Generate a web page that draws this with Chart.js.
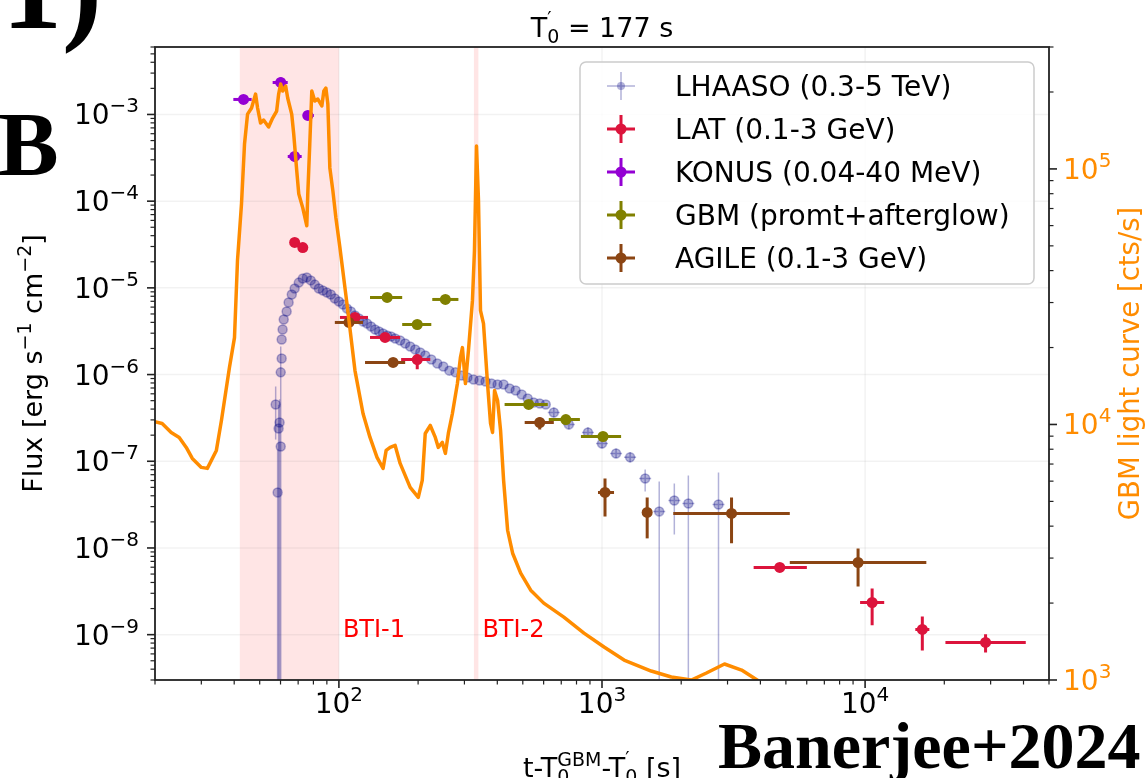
<!DOCTYPE html>
<html>
<head>
<meta charset="utf-8">
<script src="https://cdn.jsdelivr.net/npm/chart.js@4.4.1/dist/chart.umd.min.js"></script>
<style>
  html, body { margin: 0; padding: 0; background: #fff; }
  #wrap { position: relative; width: 1148px; height: 778px; }
</style>
</head>
<body>
<div id="wrap"><canvas id="lcChart" width="1148" height="778"></canvas></div>
<script>
const FONT = '"DejaVu Sans", sans-serif';
const SERIF = '"Liberation Serif", "DejaVu Serif", serif';

function gap(n) { return new Array(n).fill(null); }

// GBM light curve, counts/s (right axis)
const gbmLcTime = [19.86, 21.29, 23.05, 24.72, 26.29, 27.72, 30.0, 31.62, 34.22, 35.77,
  38.37, 40.10, 41.17, 42.64, 43.78, 44.96, 46.56, 48.23, 49.08, 50.39,
  51.73, 54.06, 55.99, 58.0, 59.02, 60.06, 61.13, 62.76, 63.88, 66.17,
  67.34, 69.15, 70.38, 72.89, 75.5, 76.16, 77.5, 78.88, 80.98, 83.15,
  86.12, 87.65, 89.23, 90.78, 92.39, 94.87, 97.39, 100.9, 107.3, 115.1,
  123.5, 131.3, 139.6, 147.2, 151.2, 156.6, 163.6, 170.9, 186.6, 200.3,
  207.4, 212.9, 222.5, 232.5, 238.7, 247.3, 253.9, 260.6, 270.0, 282.1,
  289.6, 294.8, 302.6, 310.7, 321.8, 327.5, 333.4, 339.3, 345.3, 354.5,
  367.2, 377.0, 383.7, 390.5, 401.0, 411.6, 422.7, 437.8, 457.4, 490.8,
  535.8, 600.6, 716.1, 853.8, 1018, 1213, 1538, 1834, 2186, 2494,
  2921, 3393, 3939];
const gbmLcRate = [10270, 10090, 9307, 8897, 8133, 7366, 6792, 6731, 7915, 10366,
  16700, 21870, 43720, 73000, 125200, 163900, 173100, 196300, 173100, 151200,
  155400, 145900, 158200, 168500, 196300, 214800, 201700, 211000, 189400, 163900,
  137000, 98200, 79870, 70410, 59900, 79870, 125200, 201700, 184300, 187700,
  176300, 201700, 207200, 179400, 100900, 82050, 64380, 49130, 29700, 16250,
  11040, 8897, 7432, 6731, 7915, 8133, 8280, 7040, 5675, 5186,
  6043, 9222, 9911, 8897, 8133, 8505, 7704, 9222, 11040, 14460,
  18270, 19990, 14460, 19460, 30510, 47820, 123000, 74990, 27880, 24800,
  14460, 10090, 9307, 13580, 12410, 9475, 6043, 3855, 3134, 2618,
  2247, 1999, 1762, 1526, 1346, 1197, 1084, 1027, 1000, 1065,
  1155, 1094, 991];

// LHAASO 0.3-5 TeV
const lhaasoTime = [58.5, 60.1, 59.0, 59.5, 57.5, 60.1, 60.6, 60.6, 61.1, 61.7,
  63.3, 64.4, 66.2, 67.9, 70.4, 72.9, 75.5, 78.2, 81.0, 83.9,
  86.9, 90.0, 93.2, 96.5, 100, 103.6, 107.3, 111.1, 115.1, 119.2,
  123.5, 127.9, 132.5, 137.2, 142.1, 147.2, 152.5, 157.9, 163.6, 170.9,
  178.6, 186.6, 195.0, 203.8, 212.9, 224.5, 236.6, 249.4, 262.9, 277.2,
  292.2, 308.0, 324.7, 342.3, 360.8, 380.3, 400.9, 422.6, 445.5, 469.6,
  495.1, 521.9, 550.1, 579.9, 611.3, 655.9, 748.3, 884.3, 1000, 1131,
  1279, 1459, 1650, 1883, 2129, 2772];
const lhaasoFlux = [4.37e-8, 1.48e-7, 2.39e-7, 2.80e-7, 4.52e-7, 1.06e-6, 1.53e-6, 2.54e-6, 3.31e-6, 4.32e-6,
  5.34e-6, 6.79e-6, 8.39e-6, 9.84e-6, 1.15e-5, 1.28e-5, 1.32e-5, 1.22e-5, 1.09e-5, 9.84e-6,
  9.33e-6, 8.85e-6, 8.39e-6, 7.54e-6, 6.96e-6, 6.43e-6, 5.79e-6, 5.34e-6, 4.80e-6, 4.44e-6,
  4.10e-6, 3.89e-6, 3.59e-6, 3.31e-6, 3.14e-6, 2.98e-6, 2.82e-6, 2.75e-6, 2.61e-6, 2.47e-6,
  2.28e-6, 2.11e-6, 1.95e-6, 1.80e-6, 1.66e-6, 1.49e-6, 1.34e-6, 1.24e-6, 1.11e-6, 1.06e-6,
  9.76e-7, 9.26e-7, 8.78e-7, 8.55e-7, 8.32e-7, 7.89e-7, 7.69e-7, 7.69e-7, 6.91e-7, 6.55e-7,
  5.90e-7, 5.30e-7, 4.77e-7, 4.64e-7, 4.52e-7, 3.65e-7, 2.66e-7, 2.15e-7, 1.60e-7, 1.23e-7,
  1.11e-7, 6.33e-8, 2.64e-8, 3.53e-8, 3.26e-8, 3.17e-8];
const lhaasoTimeLo = [...gap(65), 622, 710, 839, 949, 1073, 1213, 1384, 1566, 1787, 2020, 2630];
const lhaasoTimeHi = [...gap(65), 691, 789, 932, 1054, 1192, 1348, 1538, 1739, 1985, 2244, 2922];
const lhaasoFluxLo = [1e-10, 1e-10, 1e-10, 1e-10, 1.78e-7, ...gap(60),
  3.20e-7, 2.33e-7, 1.88e-7, 1.40e-7, 1.08e-7, 9.7e-8, 4.48e-8, 1e-10, 1.43e-8, 1e-10, 1e-10];
const lhaasoFluxHi = [1.37e-7, 2.11e-6, 4.5e-7, 5.2e-7, 7.29e-7, ...gap(60),
  4.17e-7, 3.04e-7, 2.46e-7, 1.83e-7, 1.40e-7, 1.27e-7, 8.04e-8, 5.85e-8, 5.54e-8, 6.86e-8, 7.43e-8];

// Fermi-LAT 0.1-3 GeV
const latTime = [67.9, 72.9, 115.1, 149.8, 198.5, 4738, 10635, 16500, 28700];
const latFlux = [3.34e-5, 2.92e-5, 4.56e-6, 2.68e-6, 1.49e-6, 5.96e-9, 2.35e-9, 1.15e-9, 8.13e-10];
const latTimeLo = [null, null, 100.9, 131.3, 172.4, 3770, 9571, 15520, 20200];
const latTimeHi = [null, null, 129.0, 170.9, 222.5, 6007, 11820, 17550, 40800];
const latFluxLo = [null, null, null, null, 1.15e-6, null, 1.28e-9, 6.57e-10, 6.23e-10];
const latFluxHi = [null, null, null, null, 1.70e-6, null, 3.41e-9, 1.62e-9, 1.01e-9];

// Konus-Wind 0.04-40 MeV
const konusTime = [43.4, 60.1, 67.9, 76.2];
const konusFlux = [1.49e-3, 2.34e-3, 3.28e-4, 9.74e-4];
const konusTimeLo = [39.7, 56.0, 63.9, 72.9];
const konusTimeHi = [46.6, 63.9, 72.2, 80.3];
const konusFluxLo = [null, 2.05e-3, 2.87e-4, null];
const konusFluxHi = [null, 2.67e-3, 3.64e-4, null];

// GBM prompt + afterglow
const gbmTime = [152.5, 198.5, 253.9, 526.5, 728.8, 1008.8];
const gbmFlux = [7.75e-6, 3.78e-6, 7.35e-6, 4.52e-7, 3.03e-7, 1.93e-7];
const gbmTimeLo = [131.3, 174.0, 226.4, 426.4, 627.6, 831.5];
const gbmTimeHi = [174.0, 224.5, 284.6, 622.1, 824.2, 1181.9];

// AGILE 0.1-3 GeV
const agileTime = [109.2, 160.7, 579.9, 1026.7, 1485, 3107, 9403];
const agileFlux = [3.99e-6, 1.38e-6, 2.80e-7, 4.37e-8, 2.57e-8, 2.50e-8, 6.80e-9];
const agileTimeLo = [96.5, 125.7, 508.3, 965.5, null, 1866, 5173];
const agileTimeHi = [123.5, 178.6, 655.9, 1111, null, 5173, 17090];
const agileFluxLo = [null, null, 2.33e-7, 2.31e-8, 1.29e-8, 1.13e-8, 3.60e-9];
const agileFluxHi = [null, null, 3.20e-7, 6.33e-8, 3.82e-8, 3.82e-8, 9.87e-9];

// axis limits and shaded bad-time intervals
const timeRange = [20, 5e4];
const fluxRange = [3e-10, 6e-3];
const rateRange = [1e3, 3e5];
const btiWindows = [[42, 100], [326, 339]];
const btiNames = ['BTI-1', 'BTI-2'];

const legendLabels = ['LHAASO (0.3-5 TeV)', 'LAT (0.1-3 GeV)', 'KONUS (0.04-40 MeV)',
  'GBM (promt+afterglow)', 'AGILE (0.1-3 GeV)'];

const ORANGE = '#ff8c00';
const NAVY_A = 'rgba(0,0,128,0.3)';
const CRIMSON = '#dc143c';
const VIOLET = '#9400d3';
const OLIVE = '#808000';
const BROWN = '#8b4513';

function points(xs, ys) { return xs.map((x, i) => ({ x: x, y: ys[i] })); }

function scatterSet(label, color, xs, ys, err, radius, edge) {
  return {
    type: 'scatter', label: label, data: points(xs, ys), yAxisID: 'y',
    pointRadius: radius, pointHoverRadius: radius,
    pointBackgroundColor: color, pointBorderColor: color, pointBorderWidth: edge || 0,
    errorBars: err
  };
}

// text with super/subscripts: parts = [{t, s, dy, stack}]
function rich(ctx, parts, x, y, align) {
  let cx = 0, hold = 0;
  const items = parts.map(p => {
    ctx.font = p.s + 'px ' + FONT;
    const w = ctx.measureText(p.t).width;
    const it = { p: p, x: cx };
    if (p.stack) hold = Math.max(hold, w);
    else { cx += Math.max(hold, w); hold = 0; }
    return it;
  });
  const off = align === 'center' ? -cx / 2 : align === 'right' ? -cx : 0;
  ctx.textAlign = 'left';
  ctx.textBaseline = 'alphabetic';
  items.forEach(it => {
    ctx.font = it.p.s + 'px ' + FONT;
    ctx.fillText(it.p.t, x + off + it.x, y + (it.p.dy || 0));
  });
}

function powLabel(e) {
  return [{ t: '10', s: 28 }, { t: (e < 0 ? '\u2212' : '') + Math.abs(e), s: 20, dy: -12 }];
}

function logTicks(min, max) {
  const out = [];
  for (let e = Math.floor(Math.log10(min)); e <= Math.ceil(Math.log10(max)); e++) {
    for (let m = 1; m <= 9; m++) {
      const v = m * Math.pow(10, e);
      if (v >= min * 0.9999 && v <= max * 1.0001) out.push({ v: v, major: m === 1, e: e });
    }
  }
  return out;
}

function crossMarker(ctx, x, y, color, lw, r, arm) {
  ctx.strokeStyle = color;
  ctx.fillStyle = color;
  ctx.lineWidth = lw;
  ctx.beginPath();
  ctx.moveTo(x - arm, y); ctx.lineTo(x + arm, y);
  ctx.moveTo(x, y - arm); ctx.lineTo(x, y + arm);
  ctx.stroke();
  ctx.beginPath();
  ctx.arc(x, y, r, 0, Math.PI * 2);
  ctx.fill();
}

const decor = {
  id: 'decor',
  beforeDatasetsDraw(chart) {
    const { ctx, chartArea: a, scales } = chart;
    ctx.save();
    // shaded intervals
    ctx.fillStyle = 'rgba(255,0,0,0.1)';
    btiWindows.forEach(w => {
      const x0 = scales.x.getPixelForValue(w[0]), x1 = scales.x.getPixelForValue(w[1]);
      ctx.fillRect(x0, a.top, x1 - x0, a.bottom - a.top);
    });
    // faint grid at decades
    ctx.strokeStyle = 'rgba(0,0,0,0.05)';
    ctx.lineWidth = 1.5;
    logTicks(timeRange[0], timeRange[1]).filter(t => t.major).forEach(t => {
      const px = scales.x.getPixelForValue(t.v);
      ctx.beginPath(); ctx.moveTo(px, a.top); ctx.lineTo(px, a.bottom); ctx.stroke();
    });
    logTicks(fluxRange[0], fluxRange[1]).filter(t => t.major).forEach(t => {
      const py = scales.y.getPixelForValue(t.v);
      ctx.beginPath(); ctx.moveTo(a.left, py); ctx.lineTo(a.right, py); ctx.stroke();
    });
    ctx.restore();
  },
  beforeDatasetDraw(chart, args) {
    const ds = chart.data.datasets[args.index];
    const eb = ds.errorBars;
    if (!eb) return;
    const { ctx, chartArea: a, scales } = chart;
    const xs = scales.x, ys = scales.y;
    ctx.save();
    ctx.beginPath();
    ctx.rect(a.left, a.top, a.right - a.left, a.bottom - a.top);
    ctx.clip();
    ctx.strokeStyle = eb.color;
    ctx.lineWidth = eb.width;
    ds.data.forEach((p, i) => {
      const px = xs.getPixelForValue(p.x), py = ys.getPixelForValue(p.y);
      ctx.beginPath();
      if (eb.xLo && eb.xLo[i] != null) {
        ctx.moveTo(xs.getPixelForValue(eb.xLo[i]), py);
        ctx.lineTo(xs.getPixelForValue(eb.xHi[i]), py);
      }
      if (eb.yLo && eb.yLo[i] != null) {
        ctx.moveTo(px, ys.getPixelForValue(eb.yLo[i]));
        ctx.lineTo(px, ys.getPixelForValue(eb.yHi[i]));
      }
      ctx.stroke();
    });
    ctx.restore();
  },
  afterDraw(chart) {
    const { ctx, chartArea: a, scales } = chart;
    ctx.save();

    // frame
    ctx.strokeStyle = '#222';
    ctx.lineWidth = 1.8;
    ctx.strokeRect(a.left, a.top, a.right - a.left, a.bottom - a.top);

    // tick marks + labels
    ctx.fillStyle = '#000';
    logTicks(timeRange[0], timeRange[1]).forEach(t => {
      const px = scales.x.getPixelForValue(t.v);
      ctx.lineWidth = t.major ? 1.6 : 1.2;
      ctx.beginPath(); ctx.moveTo(px, a.bottom); ctx.lineTo(px, a.bottom + (t.major ? 8 : 4.5)); ctx.stroke();
      if (t.major) rich(ctx, powLabel(t.e), px, 713, 'center');
    });
    logTicks(fluxRange[0], fluxRange[1]).forEach(t => {
      const py = scales.y.getPixelForValue(t.v);
      ctx.lineWidth = t.major ? 1.6 : 1.2;
      ctx.beginPath(); ctx.moveTo(a.left, py); ctx.lineTo(a.left - (t.major ? 8 : 4.5), py); ctx.stroke();
      if (t.major) rich(ctx, powLabel(t.e), 139, py + 10, 'right');
    });
    logTicks(rateRange[0], rateRange[1]).forEach(t => {
      const py = scales.yR.getPixelForValue(t.v);
      ctx.lineWidth = t.major ? 1.6 : 1.2;
      ctx.beginPath(); ctx.moveTo(a.right, py); ctx.lineTo(a.right + (t.major ? 8 : 4.5), py); ctx.stroke();
      if (t.major) {
        ctx.fillStyle = ORANGE;
        rich(ctx, powLabel(t.e), a.right + 14, py + 10, 'left');
        ctx.fillStyle = '#000';
      }
    });

    // title
    rich(ctx, [{ t: 'T', s: 27 }, { t: '\u2032', s: 19, dy: -12, stack: true }, { t: '0', s: 19, dy: 6 },
      { t: ' = 177 s', s: 27 }], (a.left + a.right) / 2, 37, 'center');

    // x axis title
    rich(ctx, [{ t: 't-T', s: 27 }, { t: 'GBM', s: 19, dy: -11, stack: true }, { t: '0', s: 19, dy: 6 },
      { t: '-T', s: 27 }, { t: '\u2032', s: 19, dy: -12, stack: true }, { t: '0', s: 19, dy: 6 },
      { t: ' [s]', s: 27 }], (a.left + a.right) / 2, 777, 'center');

    // left y title
    ctx.save();
    ctx.translate(42, (a.top + a.bottom) / 2);
    ctx.rotate(-Math.PI / 2);
    rich(ctx, [{ t: 'Flux [erg s', s: 27 }, { t: '\u22121', s: 19, dy: -11 }, { t: ' cm', s: 27 },
      { t: '\u22122', s: 19, dy: -11 }, { t: ']', s: 27 }], 0, 0, 'center');
    ctx.restore();

    // right y title
    ctx.save();
    ctx.fillStyle = ORANGE;
    ctx.translate(1139, (a.top + a.bottom) / 2);
    ctx.rotate(-Math.PI / 2);
    rich(ctx, [{ t: 'GBM light curve [cts/s]', s: 27.5 }], 0, 0, 'center');
    ctx.restore();

    // interval names
    ctx.fillStyle = '#ff0000';
    ctx.font = '24px ' + FONT;
    ctx.textAlign = 'left';
    btiNames.forEach((name, i) => {
      ctx.fillText(name, scales.x.getPixelForValue(btiWindows[i][1]) + 4, 637);
    });

    // legend
    const lx = 580, ly = 62, lw = 454, lh = 222;
    ctx.fillStyle = 'rgba(255,255,255,0.8)';
    ctx.strokeStyle = '#cccccc';
    ctx.lineWidth = 1.5;
    ctx.beginPath();
    ctx.roundRect(lx, ly, lw, lh, 6);
    ctx.fill(); ctx.stroke();
    const legendStyle = [
      [NAVY_A, 1.5, 4], [CRIMSON, 3, 5.5], [VIOLET, 3, 5.5], [OLIVE, 3, 5.5], [BROWN, 3, 5.5]
    ];
    legendLabels.forEach((lab, i) => {
      const ry = 86 + i * 43;
      crossMarker(ctx, 621, ry, legendStyle[i][0], legendStyle[i][1], legendStyle[i][2], 14);
      ctx.fillStyle = '#000';
      ctx.font = '28px ' + FONT;
      ctx.textAlign = 'left';
      ctx.textBaseline = 'alphabetic';
      ctx.fillText(lab, 675, ry + 10);
    });

    // panel marks and citation
    ctx.fillStyle = '#000';
    ctx.textAlign = 'left';
    ctx.font = 'bold 120px ' + SERIF;
    ctx.fillText('(1)', -38, 28);
    ctx.font = 'bold 91px ' + SERIF;
    ctx.fillText('B', -2, 175);
    ctx.font = 'bold 66px ' + SERIF;
    ctx.fillText('Banerjee+2024', 718, 768);

    ctx.restore();
  }
};

new Chart(document.getElementById('lcChart'), {
  type: 'scatter',
  data: {
    datasets: [
      {
        type: 'line', label: 'GBM light curve', data: points(gbmLcTime, gbmLcRate), yAxisID: 'yR',
        borderColor: ORANGE, borderWidth: 3.5, pointRadius: 0, fill: false, tension: 0,
        borderJoinStyle: 'round', borderCapStyle: 'round'
      },
      scatterSet(legendLabels[4], BROWN, agileTime, agileFlux,
        { xLo: agileTimeLo, xHi: agileTimeHi, yLo: agileFluxLo, yHi: agileFluxHi, color: BROWN, width: 3 }, 5.5),
      scatterSet(legendLabels[3], OLIVE, gbmTime, gbmFlux,
        { xLo: gbmTimeLo, xHi: gbmTimeHi, color: OLIVE, width: 3 }, 5.5),
      scatterSet(legendLabels[2], VIOLET, konusTime, konusFlux,
        { xLo: konusTimeLo, xHi: konusTimeHi, yLo: konusFluxLo, yHi: konusFluxHi, color: VIOLET, width: 3 }, 5.5),
      scatterSet(legendLabels[1], CRIMSON, latTime, latFlux,
        { xLo: latTimeLo, xHi: latTimeHi, yLo: latFluxLo, yHi: latFluxHi, color: CRIMSON, width: 3 }, 5.5),
      scatterSet(legendLabels[0], NAVY_A, lhaasoTime, lhaasoFlux,
        { xLo: lhaasoTimeLo, xHi: lhaasoTimeHi, yLo: lhaasoFluxLo, yHi: lhaasoFluxHi, color: NAVY_A, width: 1.5 }, 4.5, 1.5)
    ]
  },
  options: {
    responsive: false,
    devicePixelRatio: 1,
    animation: false,
    events: [],
    layout: { padding: { top: 47, left: 0, right: 0, bottom: 0 } },
    plugins: { legend: { display: false }, tooltip: { enabled: false } },
    scales: {
      x: {
        type: 'logarithmic', position: 'bottom', min: timeRange[0], max: timeRange[1],
        ticks: { display: false }, grid: { display: false }, border: { display: false },
        afterFit: s => { s.height = 98; }
      },
      y: {
        type: 'logarithmic', position: 'left', min: fluxRange[0], max: fluxRange[1],
        ticks: { display: false }, grid: { display: false }, border: { display: false },
        afterFit: s => { s.width = 155; }
      },
      yR: {
        type: 'logarithmic', position: 'right', min: rateRange[0], max: rateRange[1],
        ticks: { display: false }, grid: { display: false }, border: { display: false },
        afterFit: s => { s.width = 99; }
      }
    }
  },
  plugins: [decor]
});
</script>
</body>
</html>
